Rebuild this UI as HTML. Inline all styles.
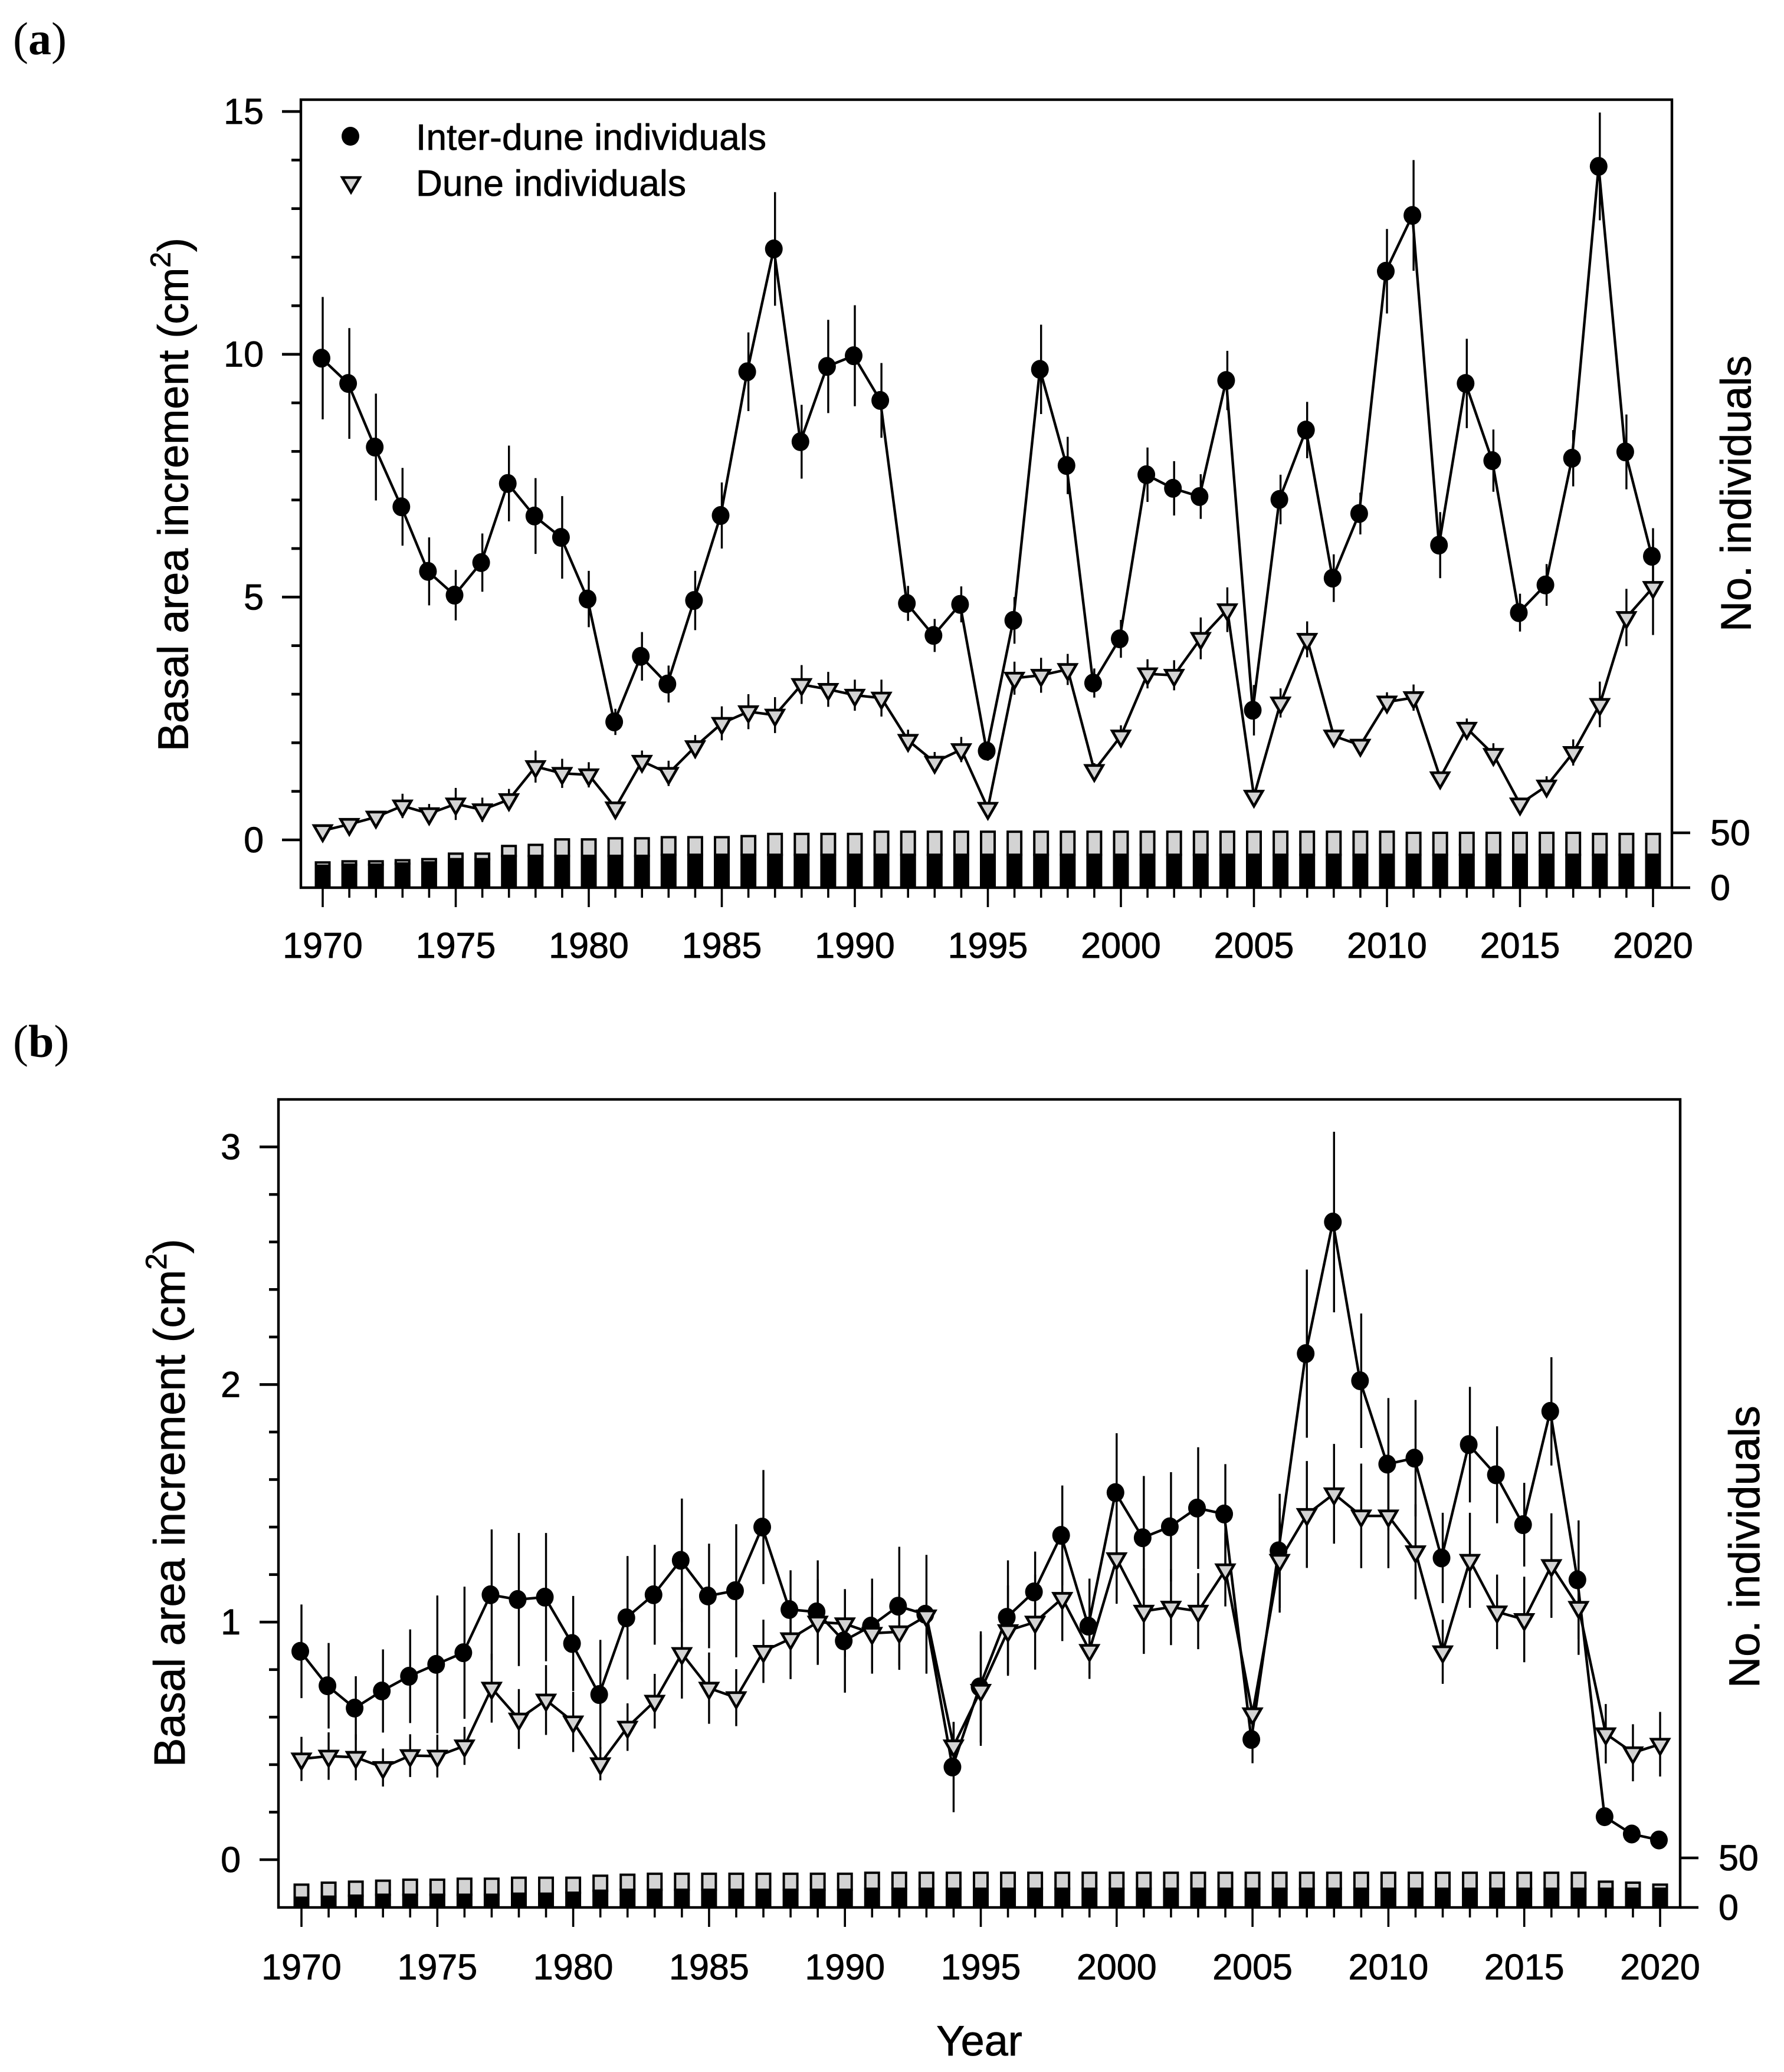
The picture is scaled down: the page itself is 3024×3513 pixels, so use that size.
<!DOCTYPE html>
<html lang="en">
<head>
<meta charset="utf-8">
<title>Basal area increment of inter-dune and dune individuals, 1970-2020</title>
<style>
html,body{margin:0;padding:0;background:#fff;}
svg{display:block;}
text{font-family:"Liberation Sans",Arial,sans-serif;fill:#000;stroke:#000;stroke-width:0.8px;}
.panel-letter{font-family:"Liberation Serif","Times New Roman",serif;font-size:78px;stroke-width:0;}
.tick{font-size:61px;}
.title{font-size:72px;}
.legend{font-size:62px;}
</style>
</head>
<body>
<svg id="chart" xmlns="http://www.w3.org/2000/svg" width="3024" height="3513" viewBox="0 0 3024 3513">
  <rect x="0" y="0" width="3024" height="3513" fill="#fff"/>
  <text class="panel-letter" x="22" y="92">(<tspan font-weight="bold">a</tspan>)</text>
  <text class="panel-letter" x="22" y="1792">(<tspan font-weight="bold">b</tspan>)</text>
  <text class="title" x="1660" y="3485" text-anchor="middle">Year</text>

  <text class="title" transform="translate(318.6 1274) rotate(-90)">Basal area increment (cm<tspan font-size="48" dy="-30">2</tspan><tspan dy="30">)</tspan></text>
  <text class="title" transform="translate(2967.5 1071) rotate(-90)">No. individuals</text>
  <text class="title" style="font-size:74px" transform="translate(313 2996) rotate(-90)">Basal area increment (cm<tspan font-size="50" dy="-31">2</tspan><tspan dy="31">)</tspan></text>
  <text class="title" style="font-size:73.6px" transform="translate(2982 2862) rotate(-90)">No. individuals</text>

  <g>
    <ellipse cx="594" cy="231" rx="15" ry="16" fill="#000"/>
    <text class="legend" x="705" y="254" textLength="594">Inter-dune individuals</text>
    <polygon points="580.3,301 609.7,301 595,326" fill="#d3d3d3" stroke="#000" stroke-width="4.6"/>
    <text class="legend" x="705" y="332" textLength="458">Dune individuals</text>
  </g>
</svg>
<script>
const years = [1970,1971,1972,1973,1974,1975,1976,1977,1978,1979,1980,1981,1982,1983,1984,1985,1986,1987,1988,1989,1990,1991,1992,1993,1994,1995,1996,1997,1998,1999,2000,2001,2002,2003,2004,2005,2006,2007,2008,2009,2010,2011,2012,2013,2014,2015,2016,2017,2018,2019,2020];
const xTickLabels = [1970,1975,1980,1985,1990,1995,2000,2005,2010,2015,2020];
const rightTickLabels = [0,50];

const aYTickLabels = [0,5,10,15];
const aYMinorTicks = [1,2,3,4,6,7,8,9,11,12,13,14];
const aInterMean = [9.92,9.40,8.09,6.86,5.53,5.04,5.71,7.34,6.67,6.23,4.96,2.43,3.78,3.21,4.93,6.68,9.64,12.17,8.20,9.75,9.97,9.05,4.87,4.21,4.85,1.83,4.52,9.69,7.71,3.23,4.14,7.52,7.24,7.07,9.46,2.67,7.01,8.44,5.39,6.72,11.71,12.86,6.07,9.40,7.81,4.68,5.25,7.86,13.87,7.99,5.84];
const aInterErr = [1.26,1.14,1.10,0.80,0.70,0.52,0.60,0.78,0.78,0.85,0.58,0.27,0.50,0.38,0.61,0.68,0.81,1.17,0.76,0.96,1.04,0.77,0.36,0.34,0.37,0.20,0.48,0.92,0.59,0.30,0.39,0.56,0.56,0.46,0.61,0.52,0.51,0.58,0.49,0.43,0.87,1.14,0.68,0.92,0.64,0.39,0.43,0.58,1.11,0.77,0.58];
const aDuneMean = [0.19,0.32,0.47,0.70,0.54,0.74,0.62,0.83,1.51,1.37,1.34,0.66,1.62,1.37,1.92,2.40,2.64,2.57,3.20,3.10,2.98,2.92,2.05,1.60,1.86,0.65,3.33,3.39,3.51,1.43,2.14,3.42,3.39,4.15,4.74,0.90,2.82,4.13,2.14,1.95,2.84,2.93,1.28,2.30,1.76,0.74,1.11,1.80,2.79,4.58,5.20];
const aDuneErr = [0.10,0.10,0.12,0.25,0.20,0.33,0.25,0.22,0.33,0.30,0.26,0.10,0.22,0.26,0.24,0.35,0.36,0.37,0.40,0.36,0.32,0.38,0.22,0.21,0.26,0.10,0.34,0.36,0.32,0.15,0.22,0.30,0.31,0.43,0.46,0.10,0.30,0.37,0.10,0.12,0.20,0.27,0.10,0.20,0.23,0.10,0.20,0.27,0.47,0.59,0.98];
const aTotalCount = [23,24,24,25,26,31,31,38,39,44,44,45,45,46,46,46,47,49,49,49,49,51,51,51,51,51,51,51,51,51,51,51,51,51,51,51,51,51,51,51,51,50,50,50,50,50,50,50,49,49,49];
const aBlackCount = [21,22,22,23,24,27,27,30,30,30,30,30,30,31,31,31,31,31,31,31,31,31,31,31,31,31,31,31,31,31,31,31,31,31,31,31,31,31,31,31,31,31,31,31,31,31,31,31,31,31,31];

const bYTickLabels = [0,1,2,3];
const bYMinorTicks = [0.2,0.4,0.6,0.8,1.2,1.4,1.6,1.8,2.2,2.4,2.6,2.8];
const bInterMean = [0.877,0.732,0.638,0.710,0.772,0.822,0.871,1.115,1.095,1.105,0.910,0.695,1.018,1.115,1.260,1.110,1.132,1.400,1.053,1.043,0.921,0.983,1.067,1.033,0.390,0.727,1.020,1.127,1.365,0.983,1.545,1.355,1.401,1.480,1.455,0.506,1.300,2.130,2.684,2.016,1.665,1.690,1.270,1.747,1.620,1.410,1.887,1.178,0.181,0.108,0.083];
const bInterErr = [0.197,0.180,0.134,0.175,0.197,0.290,0.278,0.275,0.280,0.270,0.200,0.230,0.260,0.210,0.260,0.220,0.280,0.240,0.165,0.217,0.218,0.200,0.250,0.250,0.190,0.234,0.240,0.170,0.210,0.200,0.250,0.260,0.230,0.256,0.210,0.100,0.240,0.354,0.380,0.283,0.278,0.245,0.190,0.243,0.204,0.176,0.228,0.250,0.020,0.020,0.020];
const bDuneMean = [0.424,0.436,0.431,0.388,0.438,0.436,0.479,0.722,0.592,0.672,0.580,0.404,0.558,0.667,0.868,0.722,0.682,0.877,0.930,1.000,0.993,0.953,0.959,1.026,0.479,0.713,0.964,1.000,1.100,0.881,1.267,1.046,1.063,1.046,1.220,0.614,1.260,1.453,1.540,1.447,1.447,1.296,0.875,1.260,1.043,1.011,1.238,1.062,0.530,0.450,0.486];
const bDuneErr = [0.093,0.100,0.097,0.080,0.090,0.090,0.080,0.145,0.126,0.147,0.127,0.070,0.100,0.115,0.190,0.150,0.120,0.133,0.170,0.180,0.140,0.150,0.160,0.030,0.100,0.234,0.190,0.200,0.180,0.120,0.190,0.180,0.160,0.160,0.154,0.030,0.220,0.225,0.210,0.220,0.220,0.200,0.135,0.200,0.157,0.180,0.220,0.200,0.125,0.120,0.136];
const bTotalCount = [23,25,26,27,28,28,29,29,30,30,30,32,33,34,34,34,34,34,34,34,34,35,35,35,35,35,35,35,35,35,35,35,35,35,35,35,35,35,35,35,35,35,35,35,35,35,35,35,26,25,23];
const bBlackCount = [11,12,13,14,14,14,14,14,15,15,16,18,19,19,19,19,19,19,19,19,19,20,20,20,20,20,20,20,20,20,20,20,20,20,20,20,20,20,20,20,20,20,20,20,20,20,20,20,20,20,20];

const NS = 'http://www.w3.org/2000/svg';
const root = document.getElementById('chart');

function make(tag, attrs, parent, text) {
  const el = document.createElementNS(NS, tag);
  for (const k in attrs) el.setAttribute(k, attrs[k]);
  if (text !== undefined) el.textContent = text;
  parent.appendChild(el);
  return el;
}

function drawPanel(p, box, d) {
  const xScale = function (year) { return box.x1970 + (year - 1970) * box.xStep; };
  const yScale = function (v) { return box.y0 - v * box.yUnit; };
  const nScale = function (n) { return box.bottom - n * box.nUnit; };

  const panel = make('g', {}, root);
  
  

  // count bars
  const barGroup = make('g', {}, panel);
  
  
  d.years.forEach(function (yr, i) {
    const cx = xScale(yr);
    const top = nScale(d.total[i]);
    const mid = nScale(d.black[i]);
    const upper = make('rect', {x: cx - 11.5, y: top, width: 23, height: Math.max(mid - top, 0) + 2, fill: '#d3d3d3', stroke: '#000', 'stroke-width': 4}, barGroup);
    
    
    const lower = make('rect', {x: cx - 13.5, y: mid, width: 27, height: box.bottom - mid, fill: '#000'}, barGroup);
    
    
  });

  // inter-dune series
  const interGroup = make('g', {}, panel);
  
  
  const dotOffset = -2;
  const interPts = d.years.map(function (yr, i) { return (xScale(yr) + dotOffset) + ',' + yScale(d.interMean[i]); }).join(' ');
  d.years.forEach(function (yr, i) {
    const e = make('line', {x1: xScale(yr), x2: xScale(yr), y1: yScale(d.interMean[i] + d.interErr[i]), y2: yScale(d.interMean[i] - d.interErr[i]), stroke: '#000', 'stroke-width': 3.4}, interGroup);
    
    
  });
  const interLine = make('polyline', {points: interPts, fill: 'none', stroke: '#000', 'stroke-width': 4.4, 'stroke-linejoin': 'round'}, interGroup);
  
  
  d.years.forEach(function (yr, i) {
    const c = make('ellipse', {cx: xScale(yr) + dotOffset, cy: yScale(d.interMean[i]), rx: 15, ry: 16, fill: '#000'}, interGroup);
    
    
  });

  // dune series
  const duneGroup = make('g', {}, panel);
  
  
  const dunePts = d.years.map(function (yr, i) { return xScale(yr) + ',' + yScale(d.duneMean[i]); }).join(' ');
  d.years.forEach(function (yr, i) {
    const e = make('line', {x1: xScale(yr), x2: xScale(yr), y1: yScale(d.duneMean[i] + d.duneErr[i]), y2: yScale(d.duneMean[i] - d.duneErr[i]), stroke: '#000', 'stroke-width': 3.4}, duneGroup);
    
    
  });
  const duneLine = make('polyline', {points: dunePts, fill: 'none', stroke: '#000', 'stroke-width': 4.4, 'stroke-linejoin': 'round'}, duneGroup);
  
  
  d.years.forEach(function (yr, i) {
    const cx = xScale(yr), cy = yScale(d.duneMean[i]);
    const t = make('polygon', {points: (cx - 14.7) + ',' + (cy - 8.5) + ' ' + (cx + 14.7) + ',' + (cy - 8.5) + ' ' + cx + ',' + (cy + 17), fill: '#d3d3d3', stroke: '#000', 'stroke-width': 4.6}, duneGroup);
    
    
  });

  // frame
  const frame = make('rect', {x: box.left, y: box.top, width: box.right - box.left, height: box.bottom - box.top, fill: 'none', stroke: '#000', 'stroke-width': 4.4}, panel);
  
  

  // x axis
  const xAxis = make('g', {}, panel);
  
  
  d.years.forEach(function (yr) {
    const major = xTickLabels.indexOf(yr) >= 0;
    const tick = make('line', {x1: xScale(yr), x2: xScale(yr), y1: box.bottom, y2: box.bottom + (major ? 33 : 17), stroke: '#000', 'stroke-width': 3.6}, xAxis);
    
    
  });
  xTickLabels.forEach(function (yr) {
    const lab = make('text', {class: 'tick', x: xScale(yr), y: box.xLabelY, 'text-anchor': 'middle'}, xAxis, String(yr));
    
    
  });

  // left y axis
  const yAxis = make('g', {}, panel);
  
  
  d.yTicks.forEach(function (v) {
    const tick = make('line', {x1: box.left - 32, x2: box.left, y1: yScale(v), y2: yScale(v), stroke: '#000', 'stroke-width': 4.6}, yAxis);
    
    
    const lab = make('text', {class: 'tick', x: box.yLabelX, y: yScale(v) + 21, 'text-anchor': 'end'}, yAxis, String(v));
    
    
  });
  d.yMinor.forEach(function (v) {
    const tick = make('line', {x1: box.left - 16, x2: box.left, y1: yScale(v), y2: yScale(v), stroke: '#000', 'stroke-width': 4.6}, yAxis);
    
    
  });

  // right count axis
  const rAxis = make('g', {}, panel);
  
  
  rightTickLabels.forEach(function (n) {
    const tick = make('line', {x1: box.right, x2: box.right + 31, y1: nScale(n), y2: nScale(n), stroke: '#000', 'stroke-width': 4.6}, rAxis);
    
    
    const lab = make('text', {class: 'tick', x: box.rLabelX, y: nScale(n) + 21}, rAxis, String(n));
    
    
  });
}

drawPanel('panel-a',
  {left: 510, right: 2834, top: 169, bottom: 1505, x1970: 547, xStep: 45.1, y0: 1424, yUnit: 82.33, nUnit: 1.86, xLabelY: 1624, yLabelX: 447, rLabelX: 2899},
  {years: years, yTicks: aYTickLabels, yMinor: aYMinorTicks, interMean: aInterMean, interErr: aInterErr, duneMean: aDuneMean, duneErr: aDuneErr, total: aTotalCount, black: aBlackCount});

drawPanel('panel-b',
  {left: 472, right: 2848, top: 1864, bottom: 3234, x1970: 511, xStep: 46.06, y0: 3153, yUnit: 402.8, nUnit: 1.68, xLabelY: 3356, yLabelX: 408, rLabelX: 2913},
  {years: years, yTicks: bYTickLabels, yMinor: bYMinorTicks, interMean: bInterMean, interErr: bInterErr, duneMean: bDuneMean, duneErr: bDuneErr, total: bTotalCount, black: bBlackCount});
</script>
</body>
</html>
